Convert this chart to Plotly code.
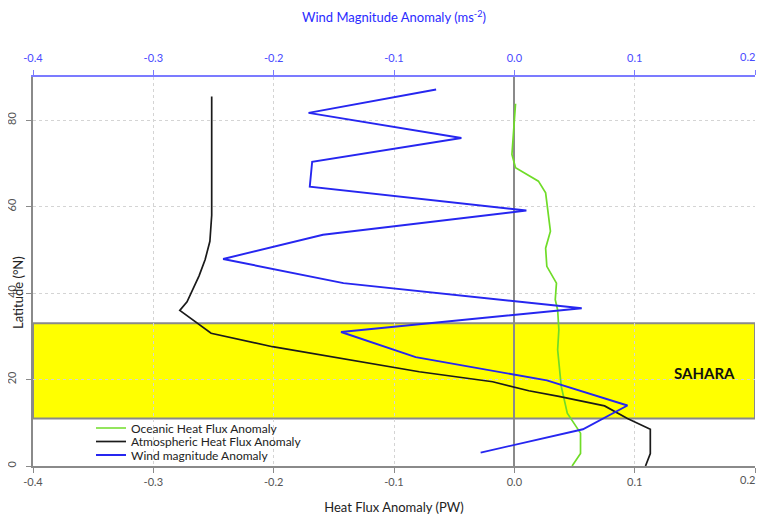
import plotly.graph_objects as go

# ---- data ----
wind_lat = [87.1, 81.7, 75.9, 70.4, 64.6, 59.1, 53.5, 47.9, 42.3, 36.5, 31.0, 25.2, 19.8, 14.0, 8.5, 3.1]
wind_val = [-0.065, -0.171, -0.044, -0.168, -0.170, 0.010, -0.159, -0.242, -0.142, 0.056, -0.144, -0.082, 0.027, 0.094, 0.057, -0.028]

atm_lat = [85.5, 58.0, 52.0, 47.7, 44.0, 40.8, 38.0, 36.0, 33.1, 30.7, 27.6, 24.6, 21.8, 19.5, 17.4, 16.1, 14.9, 13.9, 11.0, 8.5, 2.9, 0.0]
atm_val = [-0.2515, -0.2515, -0.253, -0.257, -0.262, -0.267, -0.272, -0.278, -0.264, -0.252, -0.201, -0.137, -0.079, -0.018, 0.012, 0.037, 0.057, 0.075, 0.094, 0.113, 0.113, 0.109]

oce_lat = [83.8, 79.8, 72.1, 69.0, 65.9, 63.2, 58.5, 54.3, 50.4, 46.2, 42.3, 38.5, 36.1, 31.5, 26.9, 18.4, 12.2, 7.6, 2.9, 0.0]
oce_val = [0.001, 0.000, -0.002, 0.001, 0.020, 0.026, 0.028, 0.030, 0.026, 0.027, 0.035, 0.034, 0.036, 0.037, 0.036, 0.039, 0.044, 0.055, 0.055, 0.048]

x_ticks = [-0.4, -0.3, -0.2, -0.1, 0.0, 0.1, 0.2]
x_tick_text = ["-0.4", "-0.3", "-0.2", "-0.1", "0.0", "0.1", "0.2"]
y_ticks = [0, 20, 40, 60, 80]
sahara_band = [11.0, 33.0]

FONT = "Lato"
OFF = 8  # page body margin offset
W, H = 765 - OFF, 523 - 2 * OFF
L, T = 33 - OFF, 77 - OFF
R = W - (755 - OFF)
B = H - (466 - OFF)
PW, PH = W - L - R, H - T - B


def px_x(p):
    return (p - OFF - L) / PW


def px_y(p):
    return (H - B - (p - OFF)) / PH


# last tick label is drawn as a right-anchored annotation so it is not clipped at the page edge
axis_text = x_tick_text[:-1] + [""]

fig = go.Figure()
fig.add_trace(go.Scatter(x=oce_val, y=oce_lat, mode="lines", name="Oceanic Heat Flux Anomaly",
                         line=dict(color="#6fdc28", width=1.7), legend="legend"))
fig.add_trace(go.Scatter(x=atm_val, y=atm_lat, mode="lines", name="Atmospheric Heat Flux Anomaly",
                         line=dict(color="#1a1a1a", width=1.7), legend="legend2"))
fig.add_trace(go.Scatter(x=wind_val, y=wind_lat, mode="lines", name="Wind magnitude Anomaly",
                         line=dict(color="#2626f0", width=1.9), xaxis="x2", legend="legend3"))

# Sahara band
fig.add_shape(type="rect", xref="x", yref="y", x0=-0.4, x1=0.2, y0=sahara_band[0], y1=sahara_band[1],
              fillcolor="#ffff00", line=dict(color="#8a8a8a", width=2), layer="below")
fig.add_annotation(x=0.158, y=21.5, xref="x", yref="y", text="<b>SAHARA</b>", showarrow=False,
                   font=dict(family=FONT, size=15, color="#111"))

leg_common = dict(xanchor="left", yanchor="middle", bgcolor="rgba(0,0,0,0)",
                  font=dict(family=FONT, size=12, color="#222"), itemwidth=30)

fig.update_layout(
    width=W, height=H,
    margin=dict(l=L, r=R, t=T, b=B),
    paper_bgcolor="white", plot_bgcolor="white",
    font=dict(family=FONT, color="#444"),
    showlegend=True,
    legend=dict(x=px_x(91), y=px_y(428), **leg_common),
    legend2=dict(x=px_x(91), y=px_y(441.5), **leg_common),
    legend3=dict(x=px_x(91), y=px_y(455), **leg_common),
    xaxis=dict(range=[-0.4, 0.2], tickvals=x_ticks, ticktext=axis_text, showgrid=True,
               gridcolor="#d4d4d4", griddash="dot", gridwidth=1, automargin=False,
               zeroline=True, zerolinecolor="#8a8a8a", zerolinewidth=2,
               showline=True, linecolor="#8a8a8a", linewidth=2, ticks="outside", ticklen=5,
               tickcolor="#8a8a8a", tickfont=dict(size=11, color="#555"),
               title=dict(text="Heat Flux Anomaly (PW)", font=dict(size=13, color="#222"), standoff=18)),
    xaxis2=dict(range=[-0.4, 0.2], tickvals=x_ticks, ticktext=axis_text, overlaying="x", side="top",
                showgrid=False, zeroline=False, showline=True, linecolor="#7b7bff", linewidth=1.5,
                automargin=False, ticklabelstandoff=4,
                ticks="outside", ticklen=5, tickcolor="#7b7bff", tickfont=dict(size=11, color="#4a4aff"),
                title=dict(text="Wind Magnitude Anomaly (ms<sup>-2</sup>)", font=dict(size=13, color="#2a2aff"),
                           standoff=25)),
    yaxis=dict(range=[0, 90], tickvals=y_ticks, showgrid=True, gridcolor="#d4d4d4", griddash="dot",
               zeroline=False, showline=True, linecolor="#8a8a8a", linewidth=2, ticks="outside",
               automargin=False, ticklabelstandoff=6,
               ticklen=5, tickcolor="#8a8a8a", tickangle=-90, tickfont=dict(size=11, color="#555")),
)

# right-most tick labels (bottom and top axes)
fig.add_annotation(x=x_ticks[-1], y=0, xref="x", yref="paper", text=x_tick_text[-1], showarrow=False,
                   xanchor="right", yanchor="top", yshift=-5, xshift=2,
                   font=dict(family=FONT, size=11, color="#555"))
fig.add_annotation(x=x_ticks[-1], y=1, xref="x", yref="paper", text=x_tick_text[-1], showarrow=False,
                   xanchor="right", yanchor="bottom", yshift=12, xshift=2,
                   font=dict(family=FONT, size=11, color="#4a4aff"))

fig.add_annotation(x=px_x(18), y=px_y(293), xref="paper", yref="paper", text="Latitude (°N)",
                   textangle=-90, xanchor="center", yanchor="middle",
                   showarrow=False, font=dict(family=FONT, size=13, color="#222"))

fig.write_html("out.html")
